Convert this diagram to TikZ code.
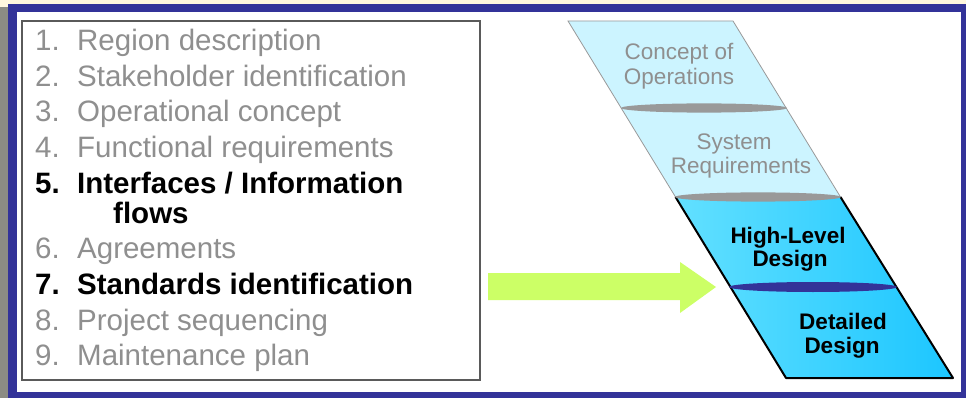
\documentclass[tikz,border=0pt]{standalone}
\usepackage{fontspec}
\setmainfont{Liberation Sans}
\definecolor{cream}{HTML}{FFF7DE}
\definecolor{stripgray}{HTML}{8C8C84}
\definecolor{frameblue}{HTML}{333399}
\definecolor{listgray}{HTML}{8F8F8F}
\definecolor{boxline}{HTML}{5A5A5A}
\definecolor{lightcyan}{HTML}{CCF4FF}
\definecolor{cyanL}{HTML}{62E0FF}
\definecolor{cyanR}{HTML}{1CC6FF}
\definecolor{divgray}{HTML}{999999}
\definecolor{arrowgreen}{HTML}{CCFF66}
\begin{document}
\begin{tikzpicture}[x=1pt,y=-1pt,
  listg/.style={anchor=base west,inner sep=0pt,text=listgray,font=\fontsize{29.5}{35}\selectfont},
  listb/.style={anchor=base west,inner sep=0pt,text=black,font=\fontsize{29.5}{35}\selectfont\bfseries},
  diagg/.style={anchor=base,inner sep=0pt,text=listgray,font=\fontsize{22.5}{25}\selectfont},
  diagb/.style={anchor=base,inner sep=0pt,text=black,font=\fontsize{22.5}{25}\selectfont\bfseries}]
\useasboundingbox (0,0) rectangle (966,398);
% background and frame
\fill[cream] (0,0) rectangle (966,398);
\fill[stripgray] (0,7) rectangle (8,398);
\fill[frameblue] (8,4) rectangle (966,398);
\fill[white] (17,11.7) rectangle (961,392);
% list box
\draw[boxline,line width=1.5pt,fill=white] (22,21) rectangle (480,380);
\newcommand{\num}[1]{\makebox[42pt][l]{#1}}
\node[listg] (l1) at (35,51) {\num{1.}Region description};
\node[listg] (l2) at (35,86.5) {\num{2.}Stakeholder identification};
\node[listg] (l3) at (35,122) {\num{3.}Operational concept};
\node[listg] (l4) at (35,157.5) {\num{4.}Functional requirements};
\node[listb] (l5) at (35,194) {\num{5.}Interfaces / Information};
\node[listb] (l5b) at (113,223) {flows};
\node[listg] (l6) at (35,258.5) {\num{6.}Agreements};
\node[listb] (l7) at (35,294) {\num{7.}Standards identification};
\node[listg] (l8) at (35,330) {\num{8.}Project sequencing};
\node[listg] (l9) at (35,365) {\num{9.}Maintenance plan};
% parallelogram segments
\draw[divgray,line width=0.8pt,fill=lightcyan] (568,21) -- (733,21) -- (840.5,197) -- (675.5,197) -- cycle;
\shade[left color=cyanL,right color=cyanR] (675.5,197) -- (840.5,197) -- (953,378) -- (786,378) -- cycle;
\draw[black,line width=2pt,line join=round] (675.5,197) -- (786,378) -- (953,378) -- (840.5,197);
% dividers
\fill[divgray] (704,108) ellipse [x radius=83,y radius=4.6];
\fill[divgray] (758,197) ellipse [x radius=83,y radius=4.6];
\fill[frameblue] (813,287) ellipse [x radius=84,y radius=5];
% segment labels
\node[diagg] (c1) at (679,60) {Concept of};
\node[diagg] (c2) at (679,85) {Operations};
\node[diagg] (s1) at (734,150) {System};
\node[diagg] (s2) at (741,174) {Requirements};
\node[diagb] (h1) at (788,243) {High-Level};
\node[diagb] (h2) at (790,266) {Design};
\node[diagb] (d1) at (843,329) {Detailed};
\node[diagb] (d2) at (842,353) {Design};
% arrow
\coordinate (arrowstart) at (488,286.5);
\coordinate (arrowtip) at (716,287);
\fill[arrowgreen] (488,273) -- (680,273) -- (680,262) -- (arrowtip) -- (680,313) -- (680,300) -- (488,300) -- cycle;
\end{tikzpicture}
\end{document}
